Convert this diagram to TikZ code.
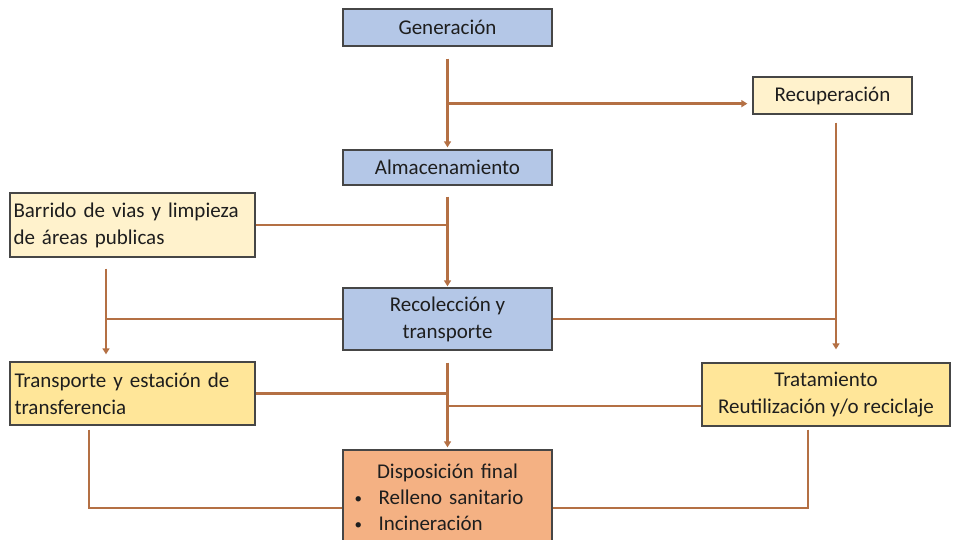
\documentclass[tikz,border=0pt]{standalone}
\usepackage{fontspec}
\setmainfont{Carlito}
\usetikzlibrary{arrows.meta}
\definecolor{boxblue}{RGB}{180,199,231}
\definecolor{boxcream}{RGB}{255,242,204}
\definecolor{boxyellow}{RGB}{255,230,153}
\definecolor{boxorange}{RGB}{244,177,131}
\definecolor{linkc}{RGB}{180,112,68}
\definecolor{edgec}{RGB}{70,70,70}
\definecolor{txtc}{RGB}{30,30,30}
\newcommand{\smbullet}{\makebox[26pt][l]{\hspace{2pt}\raisebox{1pt}{\fontsize{15}{15}\selectfont\textbullet}}}
\begin{document}
\begin{tikzpicture}[x=1pt,y=-1pt,
  box/.style={draw=edgec, line width=1.3pt, inner sep=0pt, text=txtc, font=\fontsize{21}{27}\selectfont},
  link/.style={draw=linkc, line width=2.8pt},
  arr/.style={link, -{Triangle[width=7pt,length=6pt]}},
]
\useasboundingbox (0,0) rectangle (953,540);
\fill[white] (0,0) rectangle (953,540);

\node[box, fill=boxblue, minimum width=209pt, minimum height=37pt] (gen) at (447.5,27.5) {Generación};
\node[box, fill=boxblue, minimum width=209pt, minimum height=35pt] (alm) at (447.5,167.5) {Almacenamiento};
\node[box, fill=boxcream, minimum width=159pt, minimum height=37pt] (rec) at (832.5,95.5) {Recuperación};
\node[box, fill=boxcream, minimum width=245pt, minimum height=64pt, text width=238pt, align=left] (bar) at (132.5,225) {Barrido de vias y limpieza\\de áreas publicas};
\node[box, fill=boxblue, minimum width=209pt, minimum height=62pt, align=center] (col) at (447.5,319) {Recolección y\\transporte};
\node[box, fill=boxyellow, minimum width=245pt, minimum height=63pt, text width=236pt, align=left] (tra) at (132.5,393.5) {\makebox[236pt][s]{Transporte y estación de}\\transferencia};
\node[box, fill=boxyellow, minimum width=248pt, minimum height=63pt, align=center] (trat) at (826,394.5) {Tratamiento\\Reutilización y/o reciclaje};
\node[box, fill=boxorange, minimum width=209pt, minimum height=94pt, text width=190pt, align=left, font=\fontsize{21}{26}\selectfont] (dis) at (447.5,497) {\makebox[190pt][c]{Disposición final}\\\smbullet Relleno sanitario\\\smbullet Incineración};

% junction coordinates
\coordinate (b1) at ([yshift=-57pt]gen.south);
\coordinate (bl) at ([xshift=-26.5pt]bar.south);
\coordinate (rl) at ([xshift=3.5pt]rec.south);
\coordinate (tw) at ([yshift=-11.5pt]trat.west);
\coordinate (tl) at ([xshift=-43.5pt]tra.south);
\coordinate (trb) at ([xshift=-18pt]trat.south);
\coordinate (dl) at ([yshift=-11pt]dis.west);
\coordinate (dr) at ([yshift=-11pt]dis.east);

% Generación -> Almacenamiento, branch to Recuperación
\draw[arr] ([yshift=-12pt]gen.south) -- ([yshift=2pt]alm.north);
\draw[arr, shorten >=5pt] (b1) -- (b1 -| rec.west);
% Almacenamiento -> Recolección, Barrido joins
\draw[arr] ([yshift=-11pt]alm.south) -- ([yshift=1pt]col.north);
\draw[link] (bar.east) -- (bar.east -| alm.south);
% Barrido -> Transporte, Recolección joins
\draw[arr, shorten >=7pt] ([yshift=-11pt]bl) -- (bl |- tra.north);
\draw[link] (col.west) -- (col.west -| bl);
% Recuperación -> Tratamiento, Recolección joins
\draw[arr, shorten >=13pt] ([yshift=-8pt]rl) -- (rl |- trat.north);
\draw[link] (col.east) -- (col.east -| rl);
% Recolección -> Disposición, Transporte and Tratamiento join
\draw[arr] ([yshift=-12pt]col.south) -- ([yshift=2pt]dis.north);
\draw[link] (tra.east) -- (tra.east -| col.south);
\draw[link] (tw) -- (tw -| col.south);
% Transporte and Tratamiento -> Disposición
\draw[link] ([yshift=-4pt]tl) |- (dl);
\draw[link] ([yshift=-3pt]trb) |- (dr);
\end{tikzpicture}
\end{document}
